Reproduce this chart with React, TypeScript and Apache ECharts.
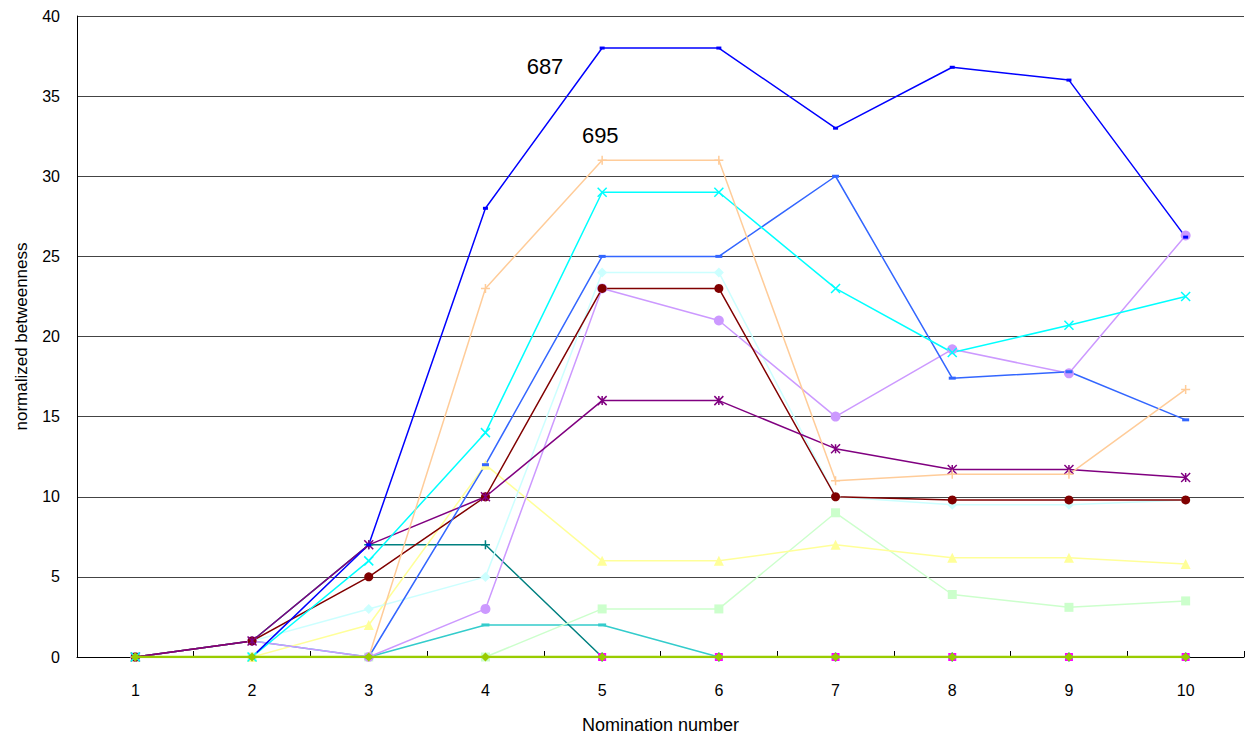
import React, { useEffect, useRef } from "react";
import * as echarts from "echarts";

const categories = ["1", "2", "3", "4", "5", "6", "7", "8", "9", "10"];

const s687 = [0, 0, 7, 28, 38, 38, 33, 36.8, 36, 26.2];
const s695 = [0, 0, 0, 23, 31, 31, 11, 11.4, 11.4, 16.7];
const sCyan = [0, 0, 6, 14, 29, 29, 23, 19, 20.7, 22.5];
const sRoyal = [0, 0, 0, 12, 25, 25, 30, 17.4, 17.8, 14.8];
const sPaleCyan = [0, 1, 3, 5, 24, 24, 10, 9.5, 9.5, 9.8];
const sMaroon = [0, 1, 5, 10, 23, 23, 10, 9.8, 9.8, 9.8];
const sLavender = [0, 1, 0, 3, 23, 21, 15, 19.2, 17.7, 26.3];
const sPurple = [0, 1, 7, 10, 16, 16, 13, 11.7, 11.7, 11.2];
const sYellow = [0, 0, 2, 12, 6, 6, 7, 6.2, 6.2, 5.8];
const sTeal = [0, 1, 7, 7, 0, 0, 0, 0, 0, 0];
const sTurq = [0, 1, 0, 2, 2, 0, 0, 0, 0, 0];
const sMint = [0, 0, 0, 0, 3, 3, 9, 3.9, 3.1, 3.5];
const sMagenta = [0, 0, 0, 0, 0, 0, 0, 0, 0, 0];
const sGreen = [0, 0, 0, 0, 0, 0, 0, 0, 0, 0];

const yTicks = [0, 5, 10, 15, 20, 25, 30, 35, 40];

const X_PATH = "path://M0,0L10,10M10,0L0,10";
const PLUS_PATH = "path://M5,0L5,10M0,5L10,5";
const STAR_PATH = "path://M0,0L10,10M10,0L0,10M5,0L5,10";
const TICK_PATH = "path://M5,0L5,10M0,5L10,5";

function lineSeries(name: string, data: any[], color: string, symbol: string, size: any, opts: any = {}) {
  const stroke = symbol.startsWith("path://");
  return {
    name,
    type: "line",
    data,
    symbol,
    symbolSize: size,
    lineStyle: { color, width: opts.width ?? 1.5 },
    itemStyle: stroke
      ? { color: "rgba(0,0,0,0)", borderColor: color, borderWidth: 1.5 }
      : { color, borderWidth: 0 },
    z: opts.z ?? 2,
  };
}

export default function App() {
  const ref = useRef<HTMLDivElement>(null);
  useEffect(() => {
    if (!ref.current) return;
    const chart = echarts.init(ref.current, null, { renderer: "svg" });
    const d687 = s687.map((v, i) =>
      i === 4
        ? {
            value: v,
            label: {
              show: true,
              formatter: "687",
              position: [-73, 9],
              align: "left",
              verticalAlign: "top",
              fontSize: 22,
              color: "#000",
              fontFamily: "Liberation Sans, Arial, sans-serif",
            },
          }
        : v
    );
    const d695 = s695.map((v, i) =>
      i === 4
        ? {
            value: v,
            label: {
              show: true,
              formatter: "695",
              position: [-15, -30],
              align: "left",
              verticalAlign: "top",
              fontSize: 22,
              color: "#000",
              fontFamily: "Liberation Sans, Arial, sans-serif",
            },
          }
        : v
    );
    chart.setOption({
      animation: false,
      backgroundColor: "#fff",
      textStyle: { fontFamily: "Liberation Sans, Arial, sans-serif" },
      grid: { left: 77, right: 5, top: 16, bottom: 83, outerBoundsMode: "none", containLabel: false },
      xAxis: {
        type: "category",
        data: categories,
        boundaryGap: true,
        name: "Nomination number",
        nameLocation: "middle",
        nameGap: 59,
        nameTextStyle: { fontSize: 18, color: "#000" },
        axisLine: { lineStyle: { color: "#000", width: 1 } },
        axisTick: { show: true, inside: true, length: 6, lineStyle: { color: "#000" } },
        axisLabel: { fontSize: 16, color: "#000", margin: 25 },
        splitLine: { show: false },
      },
      yAxis: {
        type: "value",
        min: 0,
        max: 40,
        interval: 5,
        name: "normalized betweenness",
        nameLocation: "middle",
        nameGap: 47,
        nameTextStyle: { fontSize: 17, color: "#000" },
        axisLine: { show: true, lineStyle: { color: "#000", width: 1 } },
        axisTick: { show: false },
        axisLabel: {
          fontSize: 16,
          color: "#000",
          margin: 17,
          formatter: (v: number) => (yTicks.includes(v) ? String(v) : ""),
        },
        splitLine: { show: true, lineStyle: { color: "#444", width: 1 } },
      },
      series: [
        lineSeries("Magenta", sMagenta, "#FF00FF", "rect", 8, { z: 2 }),
        lineSeries("Turquoise", sTurq, "#33CCCC", "rect", [8, 3]),
        lineSeries("Teal", sTeal, "#008080", TICK_PATH, 9),
        lineSeries("Mint", sMint, "#CCFFCC", "rect", 9),
        lineSeries("Yellow", sYellow, "#FFFF99", "triangle", 10),
        lineSeries("PaleCyan", sPaleCyan, "#CCFFFF", "diamond", 10),
        lineSeries("Lavender", sLavender, "#CC99FF", "circle", 10),
        lineSeries("Maroon", sMaroon, "#800000", "circle", 9),
        lineSeries("Purple", sPurple, "#800080", STAR_PATH, 9),
        lineSeries("Royal", sRoyal, "#3366FF", "rect", [7, 3]),
        lineSeries("Cyan", sCyan, "#00FFFF", X_PATH, 9),
        lineSeries("695", d695, "#FFCC99", PLUS_PATH, 9),
        lineSeries("687", d687, "#0000FF", "rect", [5, 3]),
        lineSeries("Green", sGreen, "#99CC00", "diamond", 9, { z: 3, width: 2.5 }),
      ],
    });
    return () => chart.dispose();
  }, []);
  return (
    <div
      ref={ref}
      style={{ position: "absolute", left: 0, top: 0, width: 1249, height: 740, background: "#fff" }}
    />
  );
}
